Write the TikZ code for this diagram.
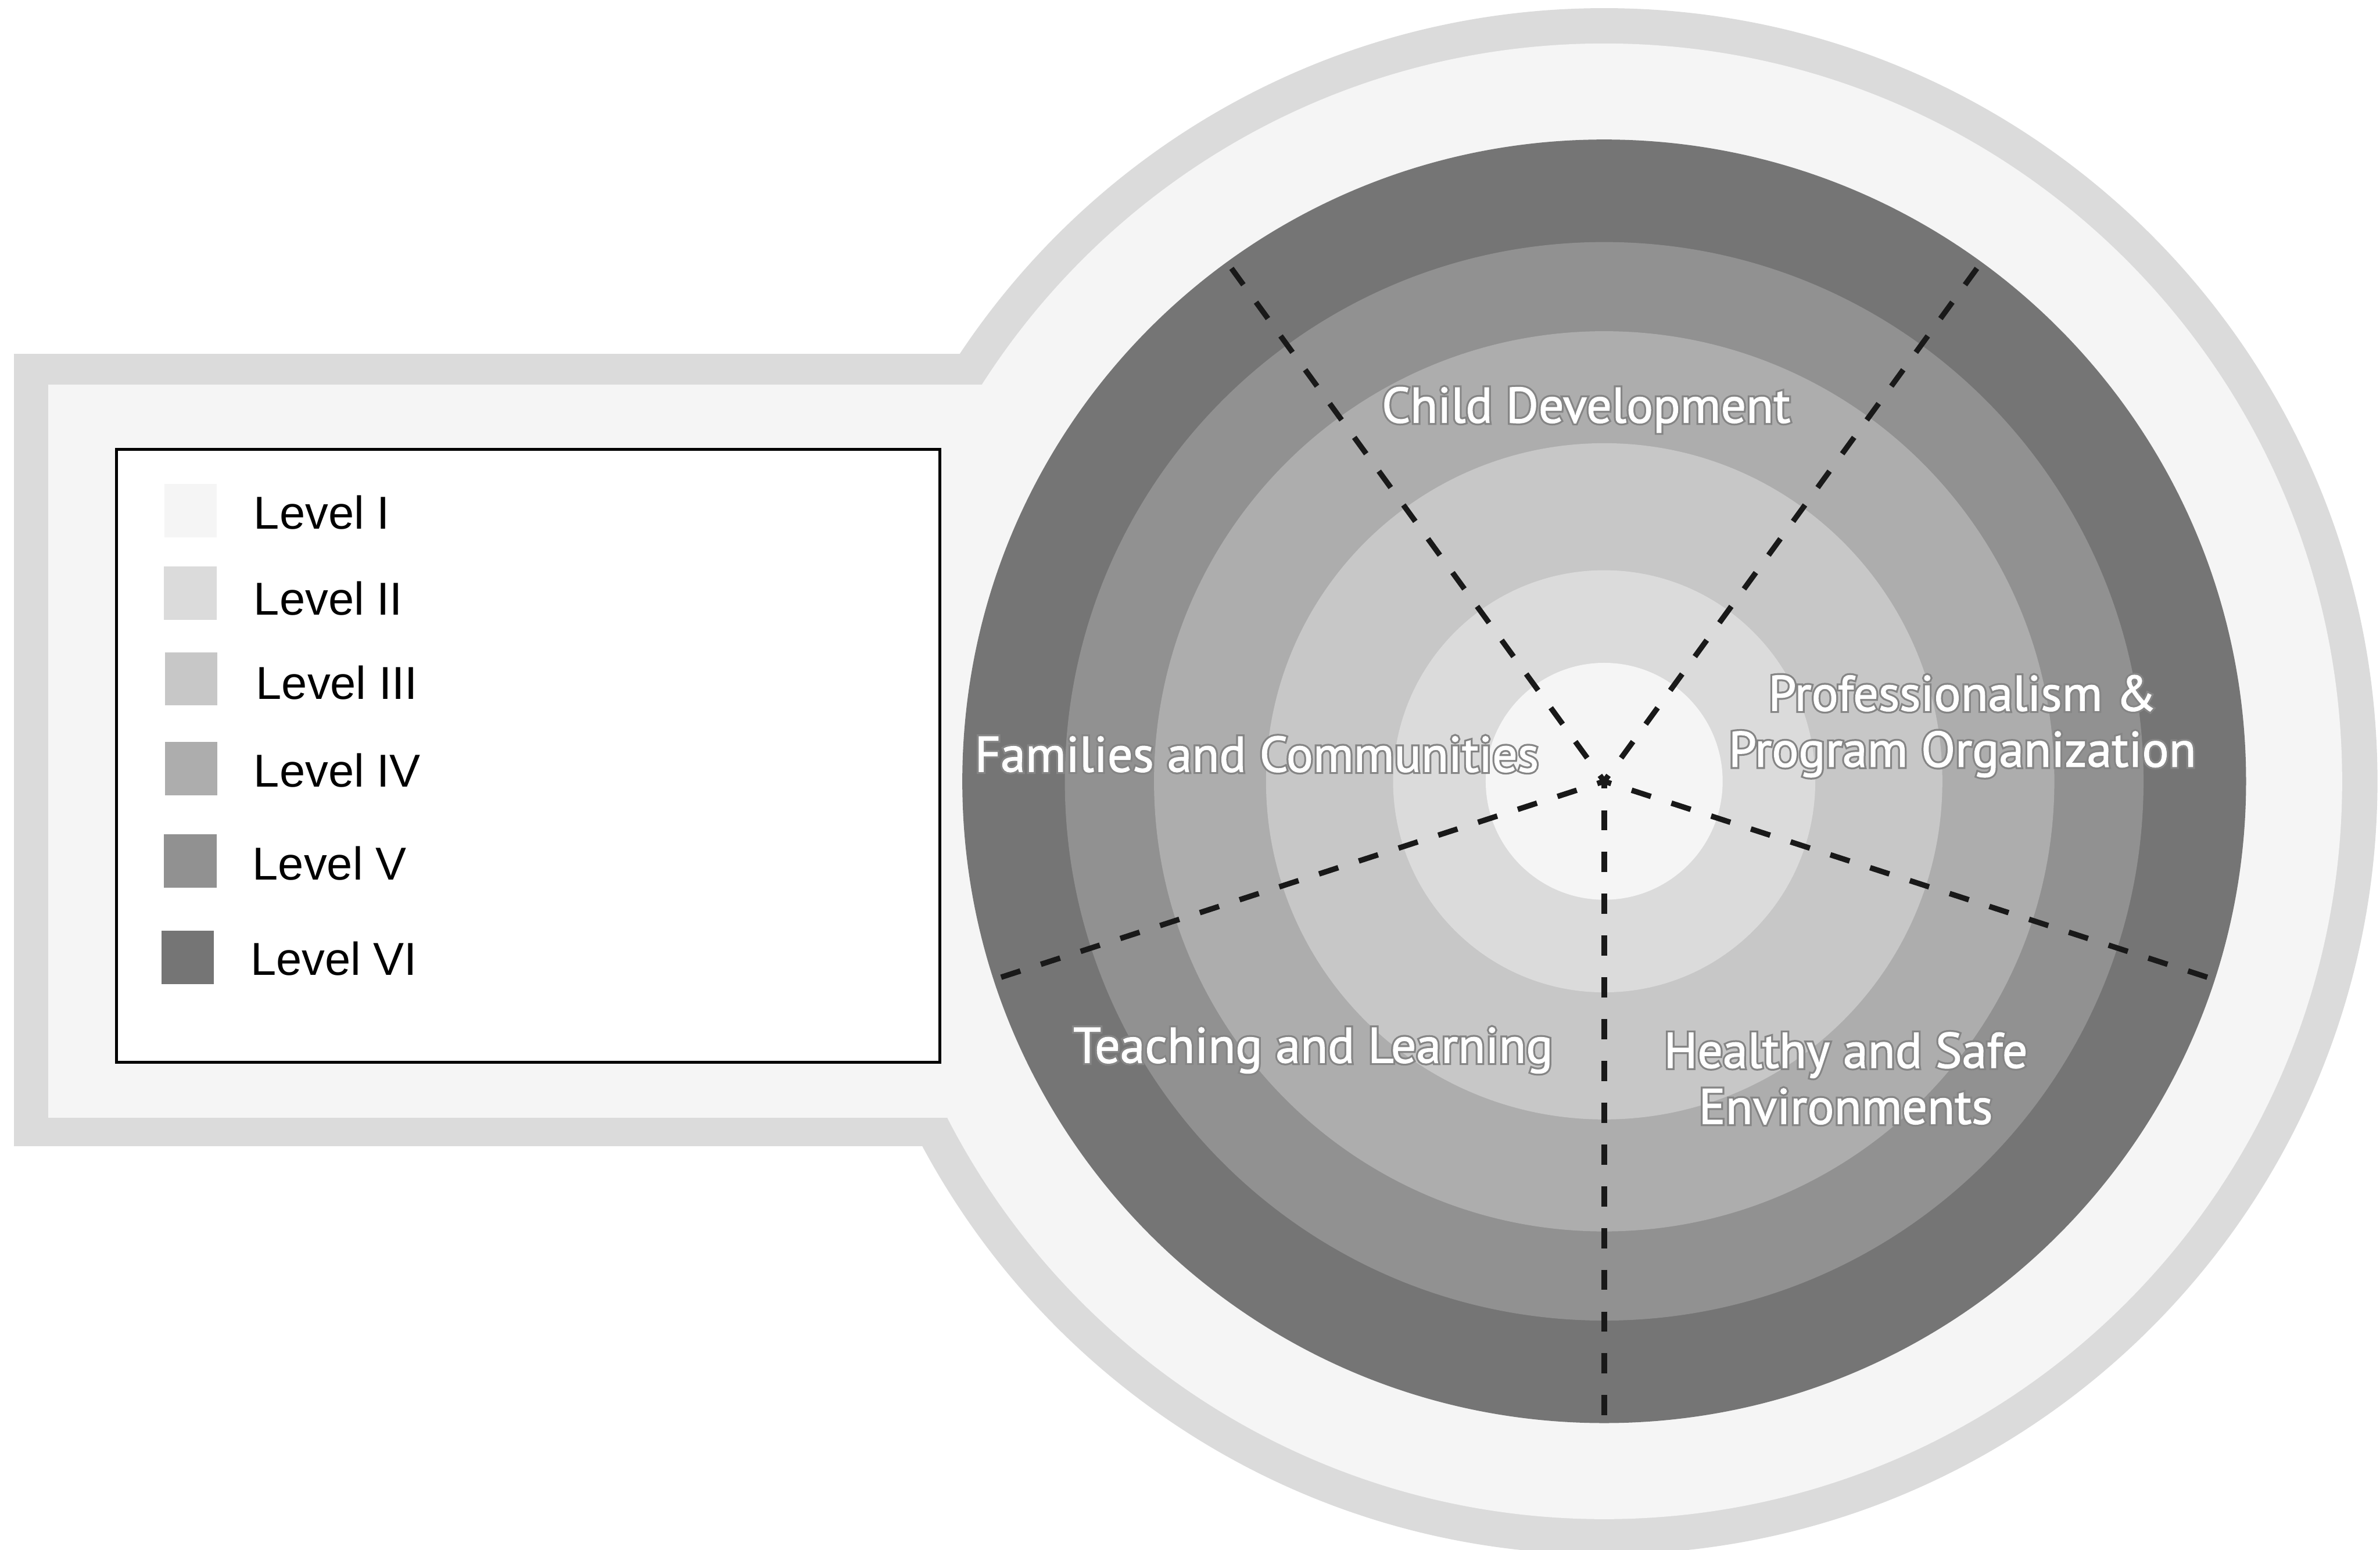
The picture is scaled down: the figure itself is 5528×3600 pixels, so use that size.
\documentclass[tikz,border=0pt]{standalone}
\usepackage{fontspec}
\setmainfont{Liberation Sans}
\newfontfamily\labelfont[FakeBold=1.5]{PT Sans}
\newfontfamily\halofont[FakeBold=9]{PT Sans}
\usetikzlibrary{calc}
\definecolor{lvA}{gray}{0.96}
\definecolor{lvB}{gray}{0.86}
\definecolor{lvC}{gray}{0.78}
\definecolor{lvD}{gray}{0.68}
\definecolor{lvE}{gray}{0.57}
\definecolor{lvF}{gray}{0.46}
\definecolor{haloc}{gray}{0.52}
\newcommand{\halotext}[1]{\rlap{\halofont\color{haloc}#1}{\labelfont\color{white}#1}}
\begin{document}
\begin{tikzpicture}[x=0.01cm,y=-0.01cm,
  swatch/.style={draw=none,inner sep=0,minimum width=1.22cm,minimum height=1.24cm},
  legendtext/.style={anchor=west,font=\fontsize{30.5}{36}\selectfont,text=black,inner sep=0},
  arealabel/.style={font=\fontsize{33}{37}\selectfont,align=center,inner sep=0},
  divider/.style={line width=3.6pt,dash pattern=on 0.47cm off 0.5cm,dash phase=0.3cm,black!90}]
\useasboundingbox (0,0) rectangle (5528,3600);
\fill[white] (0,0) rectangle (5528,3600);
\coordinate (c) at (3726,1815);
% frame: outer band (Level II) and inner fill (Level I)
\fill[lvB] (32,822) rectangle (3726,2663);
\fill[lvB] (c) circle[radius=17.95cm];
\fill[lvA] (112,893) rectangle (3726,2597);
\fill[lvA] (c) circle[radius=17.13cm];
% concentric levels
\fill[lvF] (c) circle[radius=14.90cm];
\fill[lvE] (c) circle[radius=12.52cm];
\fill[lvD] (c) circle[radius=10.45cm];
\fill[lvC] (c) circle[radius=7.85cm];
\fill[lvB] (c) circle[radius=4.90cm];
\fill[lvA] (c) circle[radius=2.75cm];
% dividers
\coordinate (d1) at ($(c)+(126:14.90cm)$);
\coordinate (d2) at ($(c)+(54:14.90cm)$);
\coordinate (d3) at ($(c)+(-18:14.90cm)$);
\coordinate (d4) at ($(c)+(-90:14.90cm)$);
\coordinate (d5) at ($(c)+(198:14.90cm)$);
\foreach \d in {d1,d2,d3,d4,d5} \draw[divider] (c) -- (\d);
% area labels
\node (cd) [arealabel] at (3684,952) {\halotext{Child Development}};
\node (fc) [arealabel] at (2919,1752) {\halotext{Families and Communities}};
\node (pp) [arealabel] at (4558,1687) {\halotext{Professionalism \&}\\\halotext{Program Organization}};
\node (tl) [arealabel] at (3050,2440) {\halotext{Teaching and Learning}};
\node (hs) [arealabel] at (4287,2505) {\halotext{Healthy and Safe}\\\halotext{Environments}};
% legend
\node (legend) [draw=black,line width=2pt,fill=white,inner sep=0,minimum width=19.11cm,minimum height=14.23cm,anchor=north west] at (267,1040) {};
\node (s1) [swatch,fill=lvA] at (443,1186) {};
\node (s2) [swatch,fill=lvB] at (442,1378) {};
\node (s3) [swatch,fill=lvC] at (444,1577) {};
\node (s4) [swatch,fill=lvD] at (444,1785) {};
\node (s5) [swatch,fill=lvE] at (442,2000) {};
\node (s6) [swatch,fill=lvF] at (436,2224) {};
\node (t1) [legendtext] at (589,1190) {Level I};
\node (t2) [legendtext] at (589,1390) {Level II};
\node (t3) [legendtext] at (594,1586) {Level III};
\node (t4) [legendtext] at (589,1790) {Level IV};
\node (t5) [legendtext] at (586,2005) {Level V};
\node (t6) [legendtext] at (581,2227) {Level VI};
\end{tikzpicture}
\end{document}
